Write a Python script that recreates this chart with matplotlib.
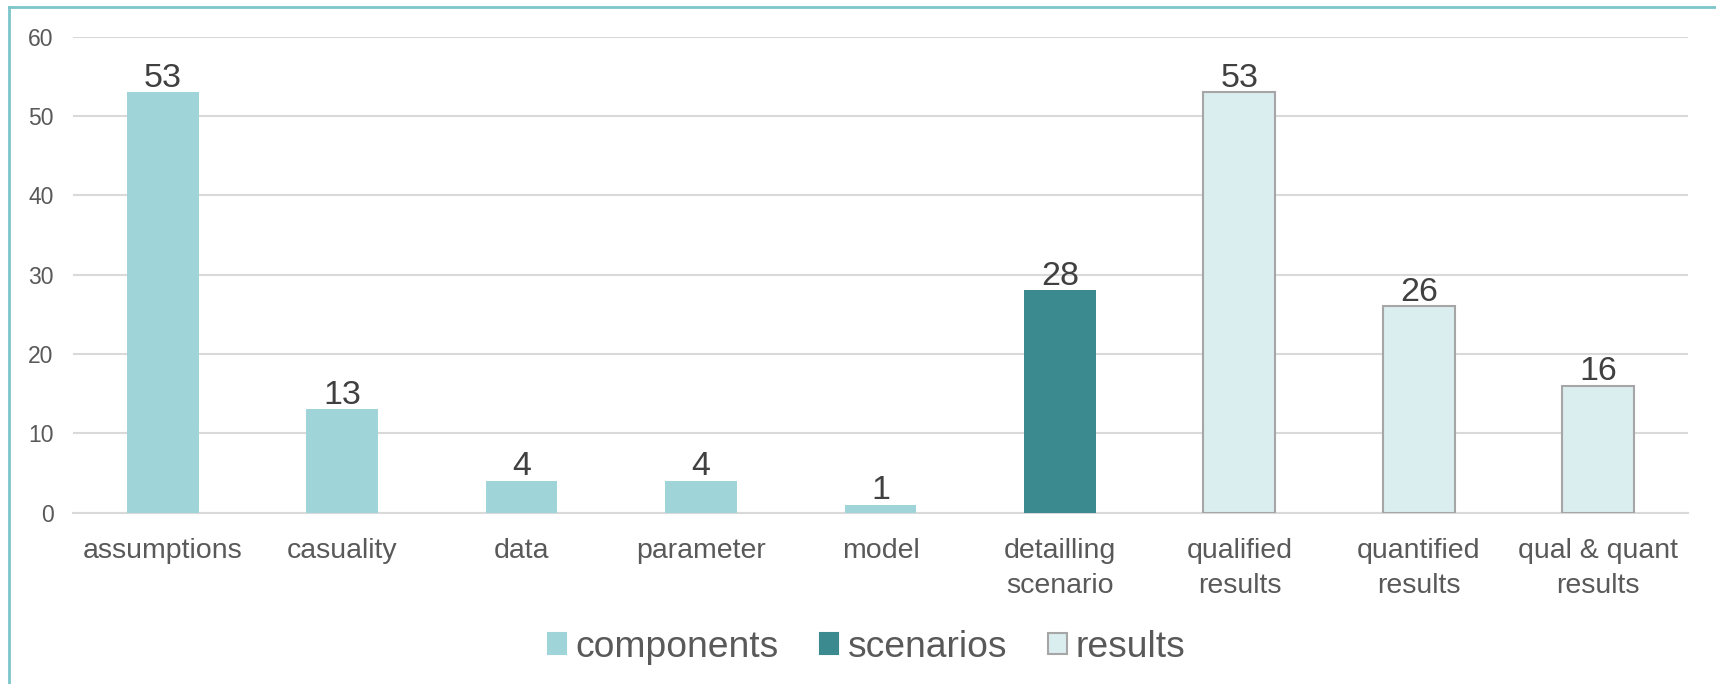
import matplotlib
matplotlib.use("Agg")
import matplotlib.pyplot as plt
from matplotlib.patches import Patch
from matplotlib.lines import Line2D

categories = ["assumptions", "casuality", "data", "parameter", "model",
              "detailling\nscenario", "qualified\nresults", "quantified\nresults",
              "qual & quant\nresults"]
values = [53, 13, 4, 4, 1, 28, 53, 26, 16]
groups = ["components", "components", "components", "components", "components",
          "scenarios", "results", "results", "results"]
group_names = ["components", "scenarios", "results"]
y_ticks = [0, 10, 20, 30, 40, 50, 60]

face = {"components": "#9FD4D8", "scenarios": "#3B8A90", "results": "#DAEDEF"}
edge = {"components": "none", "scenarios": "none", "results": "#A6A6A6"}

plt.rcParams["font.family"] = ["Liberation Sans", "DejaVu Sans"]

fig = plt.figure(figsize=(17.16, 6.84), dpi=100)
ax = fig.add_axes([0.0425, 0.2507, 0.9412, 0.6956])

x = list(range(len(categories)))
for xi, v, g in zip(x, values, groups):
    ax.bar(xi, v, width=0.4, color=face[g], edgecolor=edge[g],
           linewidth=1.5 if edge[g] != "none" else 0, zorder=3)
    ax.annotate(str(v), (xi, v), xytext=(0, 4), textcoords="offset points",
                ha="center", va="baseline", fontsize=24.5, color="#404040")

ax.set_xlim(-0.5, len(categories) - 0.5)
ax.set_ylim(0, 60)
ax.set_yticks(y_ticks)
ax.set_xticks(x)
ax.set_xticklabels(categories, fontsize=20.5, color="#595959", linespacing=1.48)
ax.tick_params(axis="y", labelsize=16.5, labelcolor="#595959", length=0, pad=14)
ax.tick_params(axis="x", length=0, pad=18)
ax.grid(axis="y", color="#D9D9D9", linewidth=1.5, zorder=0)
for s in ["top", "right", "left"]:
    ax.spines[s].set_visible(False)
ax.spines["bottom"].set_color("#D9D9D9")
ax.spines["bottom"].set_linewidth(1.5)

handles = [Patch(facecolor=face[g], edgecolor=edge[g] if edge[g] != "none" else face[g],
                 linewidth=1.5) for g in group_names]
fig.legend(handles, group_names, loc="center", bbox_to_anchor=(0.505, 0.054),
           ncol=3, frameon=False, fontsize=26.8, handlelength=0.5, handleheight=0.5,
           handletextpad=0.25, columnspacing=1.1, labelcolor="#595959")

# figure frame on the left and top edges
fig.add_artist(Line2D([9 / 1716, 9 / 1716], [0, 1 - 7 / 684], transform=fig.transFigure,
                      color="#7CC5CA", linewidth=2))
fig.add_artist(Line2D([9 / 1716, 1], [1 - 7 / 684, 1 - 7 / 684], transform=fig.transFigure,
                      color="#7CC5CA", linewidth=2))

fig.savefig("out.png", dpi=100)
